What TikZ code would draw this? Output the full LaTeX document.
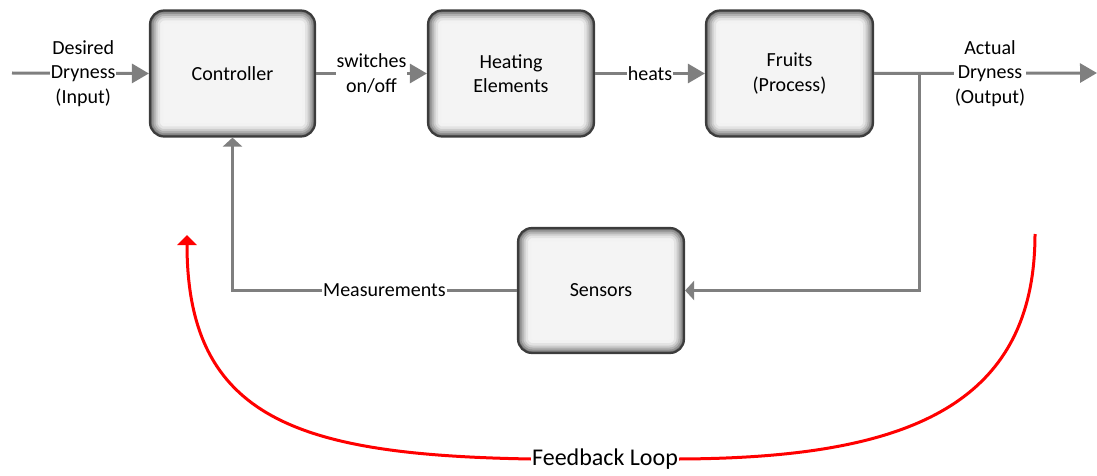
\documentclass[tikz,border=0pt]{standalone}
\usepackage{fontspec}
\setmainfont{Carlito}
\usetikzlibrary{arrows.meta}

\definecolor{linegray}{HTML}{7F7F7F}
\definecolor{boxedge}{HTML}{3C3C3C}
\definecolor{boxface}{HTML}{F4F4F4}

\tikzset{
  blockbox/.style={
    draw=boxedge, line width=2.2pt, fill=boxface,
    rounded corners=14pt, align=center,
    minimum width=#1, minimum height=126pt, inner sep=0pt,
    path picture={
      \foreach \w/\c in {26/5,20/11,15/20,11/31,7/43,3.5/56}{
        \draw[line width=\w pt, draw=black!\c, rounded corners=14pt]
          (path picture bounding box.south west) rectangle
          (path picture bounding box.north east);
      }
    }
  },
  flow/.style={draw=linegray, line width=3pt},
  bigtip/.style={-{Triangle[length=17pt,width=19pt]}},
  shorttip/.style={-{Triangle[length=9pt,width=19pt]}},
  redtip/.style={-{Triangle[length=10pt,width=19pt]}},
  tag/.style={fill=white, inner sep=1pt, align=center, text=black},
  loop/.style={draw=red, line width=3pt},
}

\begin{document}
\begin{tikzpicture}[x=1pt, y=-1pt, font=\fontsize{20}{24.5}\selectfont]
\useasboundingbox (0,0) rectangle (1097,476);

% blocks of the forward path
\node[blockbox=165pt] (ctrl)  at (232.5,73.5) {Controller};
\node[blockbox=166pt] (heat)  at (511,73.5)   {Heating\\Elements};
\node[blockbox=167pt] (fruit) at (789.5,73.5) {Fruits\\(Process)};
% block of the return path
\node[blockbox=166pt, minimum height=125pt] (sens) at (601,290.5) {Sensors};

% free ends and branch point
\coordinate (inp)  at (12,73);
\coordinate (outp) at (1097,73);
\coordinate (br)   at (919,73);

% forward signals
\draw[flow, bigtip] (inp) -- node[tag, pos=0.52] {Desired\\Dryness\\(Input)} (ctrl.west);
\draw[flow, bigtip] (ctrl.east) -- node[tag] {switches\\on/off} (heat.west);
\draw[flow, bigtip] (heat.east) -- node[tag] {heats} (fruit.west);
\draw[flow, bigtip] (fruit.east) -- node[tag, pos=0.52] {Actual\\Dryness\\(Output)} (outp);

% feedback signals
\draw[flow, shorttip] (br) |- (sens.east);
\draw[flow, shorttip] (sens.west) -| node[tag, pos=0.233] {Measurements} (ctrl.south);

% red feedback loop annotation
\node[inner sep=1pt, font=\fontsize{24}{28}\selectfont] (fb) at (605,459) {Feedback Loop};
\coordinate (fbs) at (1035,234);
\coordinate (fbe) at (187,235);
\draw[loop] (fbs) .. controls (1035,410) and (900,458) .. (fb.east);
\draw[loop, redtip] (fb.west) .. controls (300,455) and (187,420) .. (fbe);
\end{tikzpicture}
\end{document}
